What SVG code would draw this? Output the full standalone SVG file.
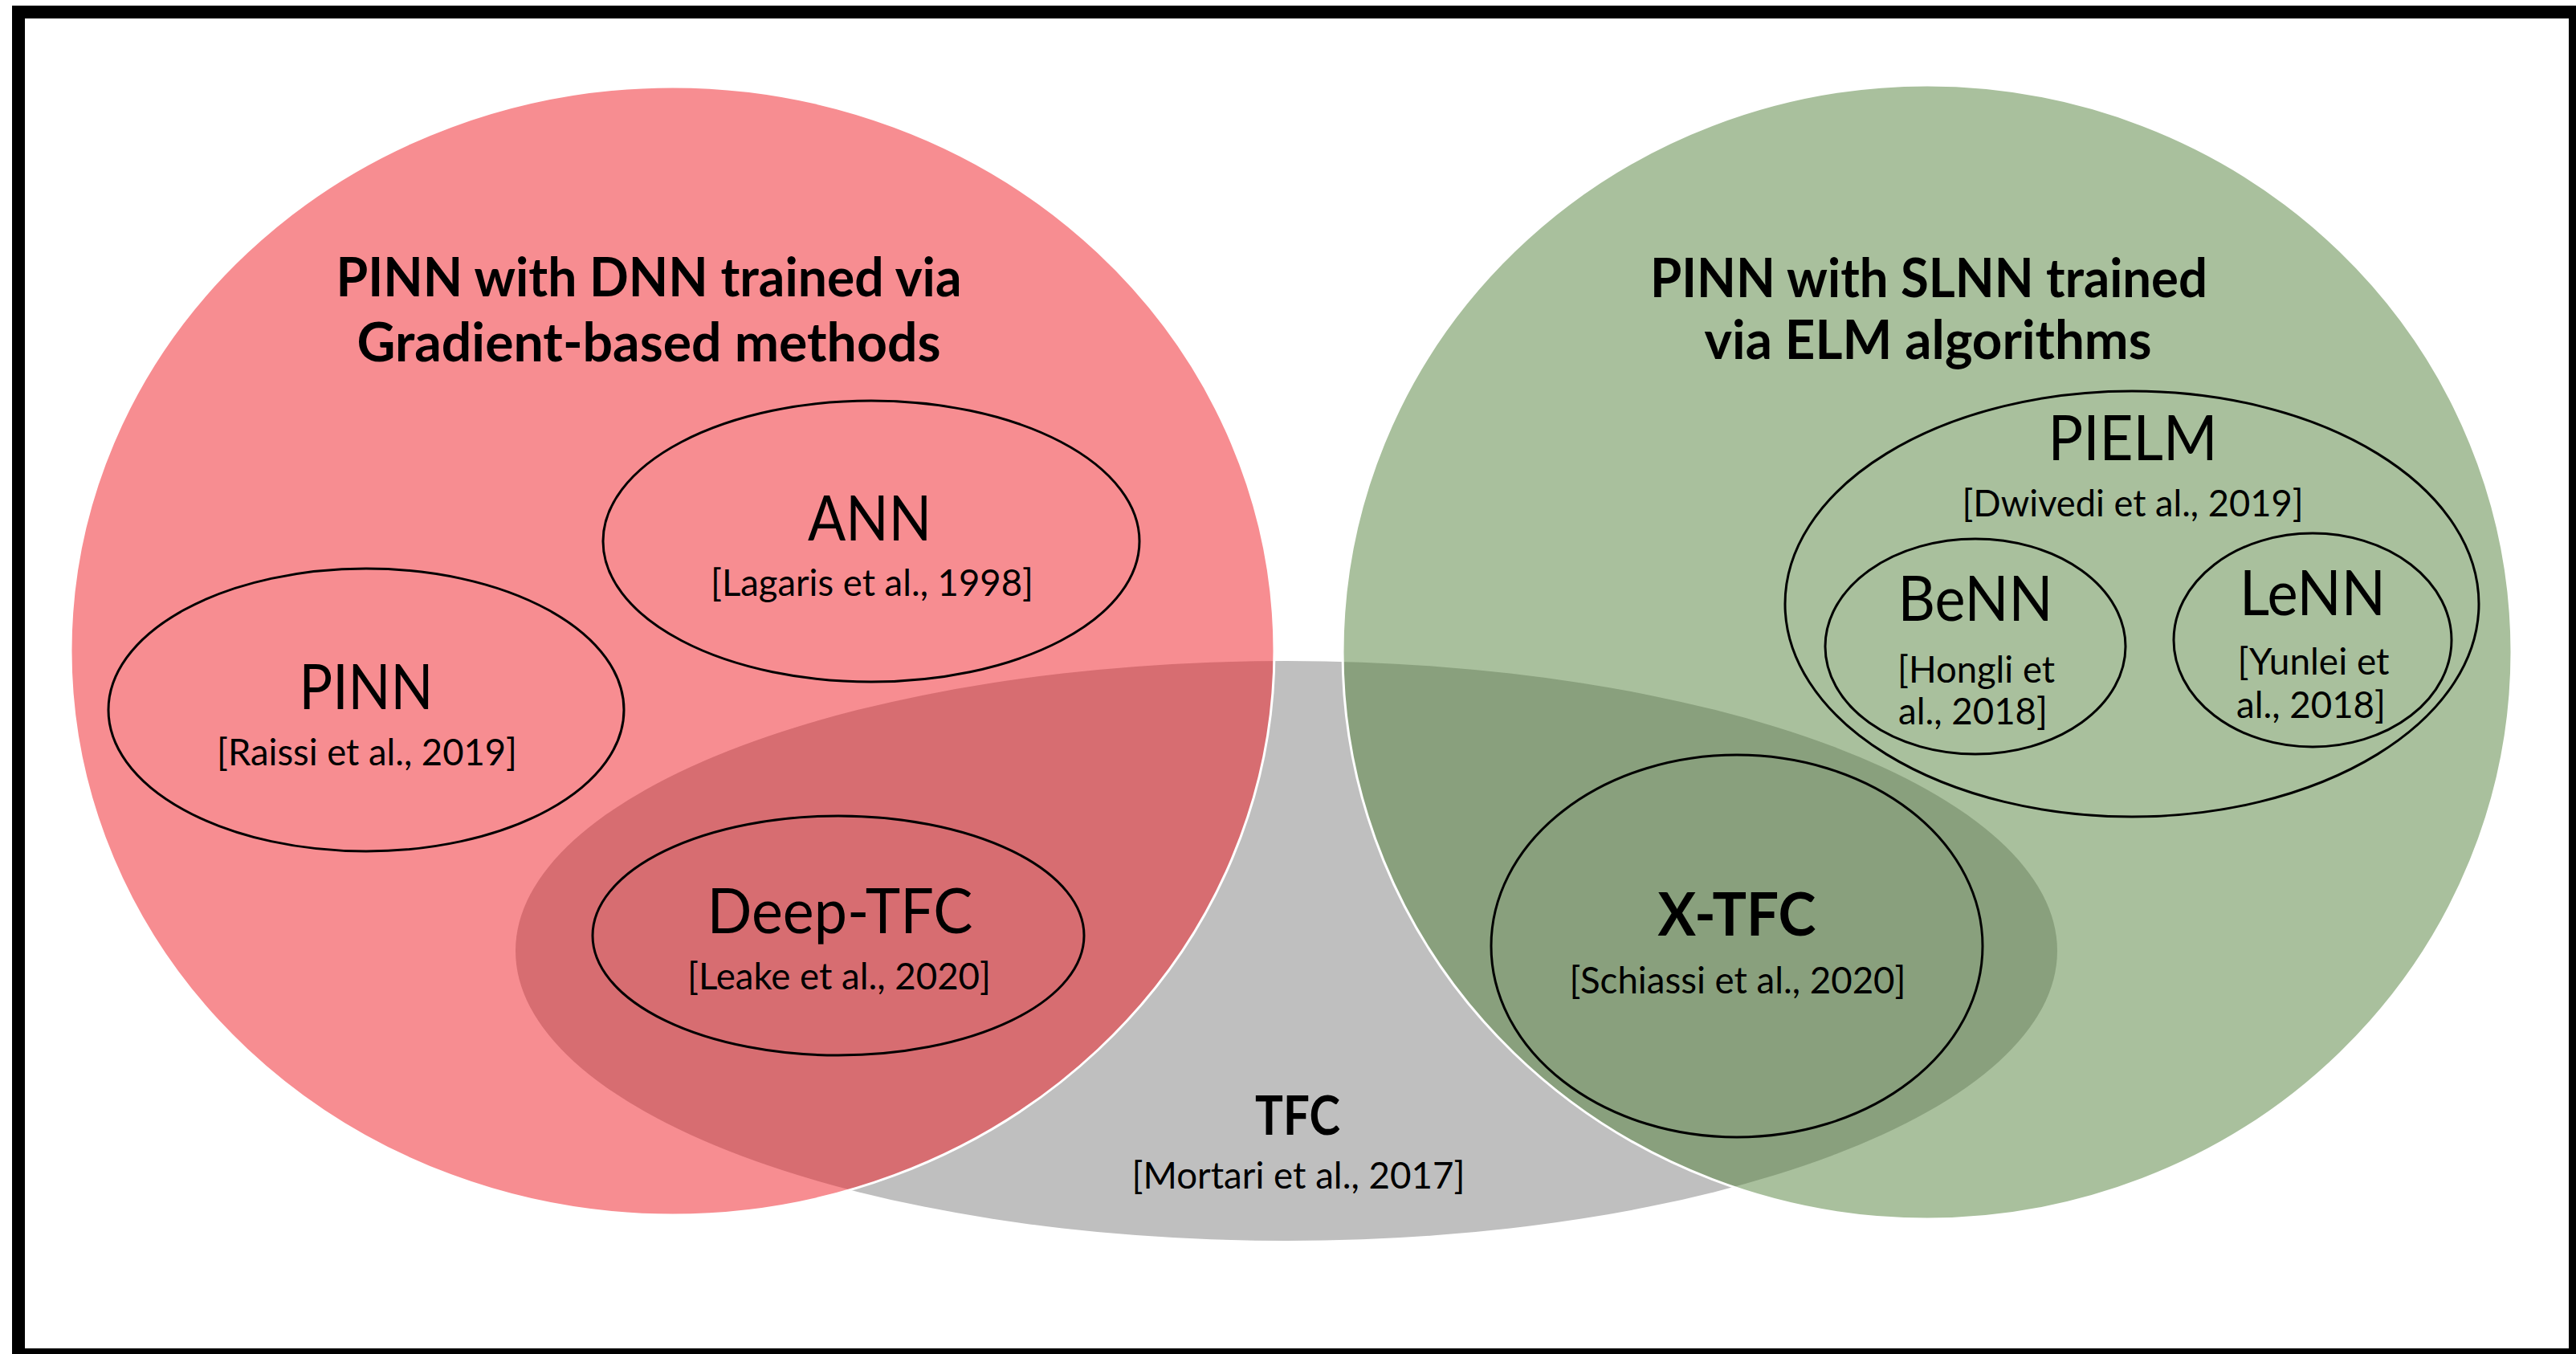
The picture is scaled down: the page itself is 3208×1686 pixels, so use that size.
<svg xmlns="http://www.w3.org/2000/svg" width="3208" height="1686" viewBox="0 0 3208 1686">
  <style>
    .t { font-family: "Lato", "Liberation Sans", sans-serif; fill: #000; text-anchor: middle; }
    .b { font-weight: bold; }
    .big { font-size: 77px; }
    .cite { font-size: 47px; }
    .title { font-size: 66px; font-weight: bold; }
    .set { stroke: #ffffff; stroke-width: 3; }
    .inner { fill: none; stroke: #000; stroke-width: 3; }
  </style>
  <rect x="0" y="0" width="3208" height="1686" fill="#ffffff"/>
  <rect x="23" y="15" width="3184" height="1672" fill="none" stroke="#000" stroke-width="16"/>

  <g id="tfc">
    <ellipse cx="1602" cy="1184" rx="960" ry="361" fill="#BFBFBF"/>
    <text class="t b" x="1616" y="1413" font-size="66" textLength="106" lengthAdjust="spacingAndGlyphs">TFC</text>
    <text class="t cite" x="1617" y="1480" textLength="415" lengthAdjust="spacingAndGlyphs">[Mortari et al., 2017]</text>
  </g>

  <g id="pinn-dnn">
    <ellipse class="set" cx="837.5" cy="810.5" rx="749.5" ry="702.5" fill="#EF1B23" fill-opacity="0.5"/>
    <text class="t title" x="808" y="369" textLength="779" lengthAdjust="spacingAndGlyphs">PINN with DNN trained via</text>
    <text class="t title" x="808" y="450" textLength="727" lengthAdjust="spacingAndGlyphs">Gradient-based methods</text>
  </g>

  <g id="pinn-slnn">
    <ellipse class="set" cx="2400" cy="812" rx="728" ry="706" fill="#53813B" fill-opacity="0.5"/>
    <text class="t title" x="2402" y="370" textLength="694" lengthAdjust="spacingAndGlyphs">PINN with SLNN trained</text>
    <text class="t title" x="2401" y="447" textLength="557" lengthAdjust="spacingAndGlyphs">via ELM algorithms</text>
  </g>

  <g id="ann">
    <ellipse class="inner" cx="1085" cy="674" rx="334" ry="175"/>
    <text class="t big" x="1083" y="673" textLength="154" lengthAdjust="spacingAndGlyphs">ANN</text>
    <text class="t cite" x="1086" y="742" textLength="402" lengthAdjust="spacingAndGlyphs">[Lagaris et al., 1998]</text>
  </g>

  <g id="pinn">
    <ellipse class="inner" cx="456" cy="884" rx="321" ry="176"/>
    <text class="t big" x="456" y="883" textLength="167" lengthAdjust="spacingAndGlyphs">PINN</text>
    <text class="t cite" x="457" y="953" textLength="374" lengthAdjust="spacingAndGlyphs">[Raissi et al., 2019]</text>
  </g>

  <g id="deep-tfc">
    <ellipse class="inner" cx="1044" cy="1165" rx="306" ry="149"/>
    <text class="t big" x="1046" y="1162" textLength="331" lengthAdjust="spacingAndGlyphs">Deep-TFC</text>
    <text class="t cite" x="1045" y="1232" textLength="378" lengthAdjust="spacingAndGlyphs">[Leake et al., 2020]</text>
  </g>

  <g id="x-tfc">
    <ellipse class="inner" cx="2163" cy="1178" rx="306" ry="238"/>
    <text class="t b" x="2163" y="1165" font-size="74" textLength="197" lengthAdjust="spacingAndGlyphs">X-TFC</text>
    <text class="t cite" x="2164" y="1237" textLength="419" lengthAdjust="spacingAndGlyphs">[Schiassi et al., 2020]</text>
  </g>

  <g id="pielm">
    <ellipse class="inner" cx="2655" cy="752" rx="432" ry="265"/>
    <text class="t big" x="2656" y="573" textLength="211" lengthAdjust="spacingAndGlyphs">PIELM</text>
    <text class="t cite" x="2656" y="643" textLength="425" lengthAdjust="spacingAndGlyphs">[Dwivedi et al., 2019]</text>
  </g>

  <g id="benn">
    <ellipse class="inner" cx="2460" cy="805" rx="187" ry="134"/>
    <text class="t big" x="2460" y="773" textLength="193" lengthAdjust="spacingAndGlyphs">BeNN</text>
    <text class="t cite" x="2461" y="850" textLength="196" lengthAdjust="spacingAndGlyphs">[Hongli et</text>
    <text class="t cite" x="2457" y="902" textLength="186" lengthAdjust="spacingAndGlyphs">al., 2018]</text>
  </g>

  <g id="lenn">
    <ellipse class="inner" cx="2880" cy="797" rx="173" ry="133"/>
    <text class="t big" x="2880" y="766" textLength="182" lengthAdjust="spacingAndGlyphs">LeNN</text>
    <text class="t cite" x="2881" y="840" textLength="189" lengthAdjust="spacingAndGlyphs">[Yunlei et</text>
    <text class="t cite" x="2878" y="894" textLength="186" lengthAdjust="spacingAndGlyphs">al., 2018]</text>
  </g>

  <g id="connectors"/>
</svg>
